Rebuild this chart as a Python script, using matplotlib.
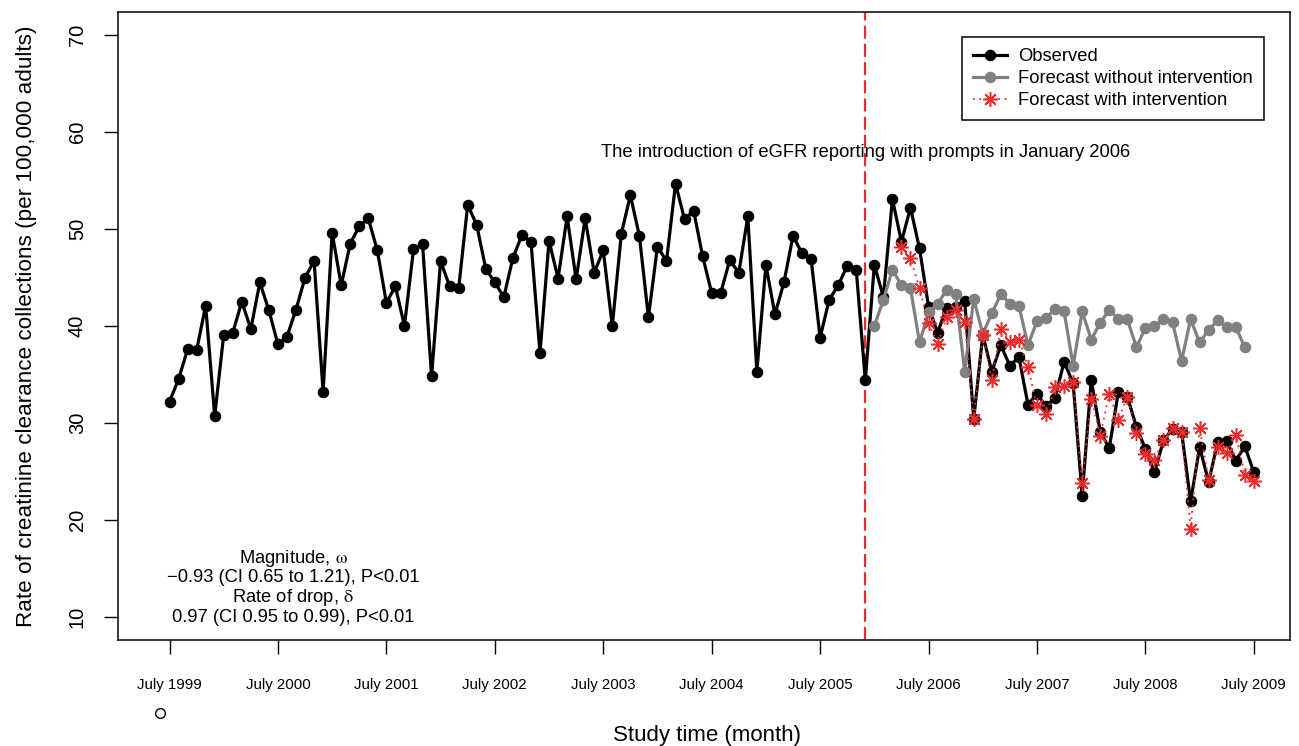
import numpy as np
import matplotlib
matplotlib.use("Agg")
import matplotlib.pyplot as plt
from matplotlib.lines import Line2D

plt.rcParams['font.family'] = ['Liberation Sans', 'DejaVu Sans']
plt.rcParams['mathtext.fontset'] = 'stix'

# ---------------- data ----------------
tick_labels = ["July 1999", "July 2000", "July 2001", "July 2002", "July 2003",
               "July 2004", "July 2005", "July 2006", "July 2007", "July 2008",
               "July 2009"]

observed = [32.2, 34.5, 37.6, 37.5, 42.1, 30.7, 39.1, 39.3, 42.5, 39.7,
            44.5, 41.6, 38.1, 38.9, 41.7, 45.0, 46.7, 33.2, 49.6, 44.2,
            48.5, 50.3, 51.1, 47.8, 42.4, 44.1, 40.0, 47.9, 48.5, 34.8,
            46.7, 44.1, 43.9, 52.5, 50.4, 45.9, 44.5, 43.0, 47.0, 49.4,
            48.7, 37.2, 48.8, 44.9, 51.3, 44.8, 51.1, 45.5, 47.8, 40.0,
            49.5, 53.5, 49.3, 40.9, 48.2, 46.7, 54.7, 51.0, 51.9, 47.2,
            43.4, 43.4, 46.8, 45.5, 51.3, 35.3, 46.3, 41.2, 44.5, 49.3,
            47.5, 46.9, 38.8, 42.7, 44.2, 46.2, 45.8, 34.4, 46.3, 43.0,
            53.1, 48.7, 52.2, 48.0, 42.0, 39.3, 41.9, 42.0, 42.6, 30.4,
            39.1, 35.3, 38.0, 35.9, 36.8, 31.9, 33.0, 31.7, 32.6, 36.3,
            34.1, 22.5, 34.4, 29.1, 27.4, 33.2, 32.7, 29.6, 27.3, 24.9,
            28.2, 29.4, 29.1, 21.9, 27.5, 23.9, 28.0, 28.1, 26.1, 27.6,
            24.9]

forecast_without_start = 78   # month index of first point
forecast_without = [40.0, 42.7, 45.8, 44.2, 43.9, 38.3, 41.4, 42.3, 43.7, 43.3,
                    35.3, 42.8, 39.2, 41.3, 43.3, 42.3, 42.1, 38.0, 40.5, 40.8,
                    41.8, 41.5, 35.9, 41.5, 38.6, 40.3, 41.7, 40.7, 40.7, 37.8,
                    39.8, 40.0, 40.7, 40.4, 36.4, 40.7, 38.3, 39.6, 40.6, 39.9,
                    39.9, 37.8]

forecast_with_start = 81
forecast_with = [48.2, 47.0, 43.9, 40.3, 38.1, 40.9, 41.6, 40.4, 30.4, 39.1,
                 34.4, 39.7, 38.4, 38.6, 35.8, 31.8, 30.9, 33.7, 33.8, 34.2,
                 23.8, 32.5, 28.7, 33.0, 30.3, 32.7, 29.0, 26.8, 26.2, 28.2,
                 29.5, 29.1, 19.1, 29.5, 24.1, 27.5, 26.9, 28.8, 24.6, 24.0]

intervention_month = 77

# ---------------- figure ----------------
W, H = 1299, 746
fig = plt.figure(figsize=(W / 100, H / 100), dpi=100)
ax = fig.add_axes([118 / W, 1 - 640 / H, (1290 - 118) / W, (640 - 12) / H])

red = '#EE2A2A'
x_obs = np.arange(len(observed))
x_wo = np.arange(len(forecast_without)) + forecast_without_start
x_w = np.arange(len(forecast_with)) + forecast_with_start

ax.axvline(intervention_month, color=red, lw=1.6, dashes=(5.9, 2.3), zorder=1)

ax.plot(x_obs, observed, color='black', lw=2.3, marker='o', ms=7.3,
        label='Observed', zorder=3)
ax.plot(x_wo, forecast_without, color='#808080', lw=2.3, marker='o', ms=7.3,
        label='Forecast without intervention', zorder=4)
ax.plot(x_w, forecast_with, color=red, lw=1.3, ls=(0, (1, 2.5)),
        marker=(8, 2, 0), ms=10.5, mew=1.1, label='Forecast with intervention',
        zorder=5)

ax.set_xlim(-5.7, 124.0)
ax.set_ylim(7.6, 72.4)
ax.set_xticks(np.arange(0, 121, 12))
ax.set_xticklabels(tick_labels)
ax.set_yticks(np.arange(10, 71, 10))

ax.tick_params(axis='x', length=10, width=1.0, pad=17, labelsize=10.8)
ax.tick_params(axis='y', length=10, width=1.0, pad=12.5, labelsize=14.5,
               labelrotation=90)
for lbl in ax.get_yticklabels():
    lbl.set_va('center')
for sp in ax.spines.values():
    sp.set_linewidth(1.1)

fig.text(27 / W, 1 - 326 / H,
         'Rate of creatinine clearance collections (per 100,000 adults)',
         rotation=90, ha='center', va='center', fontsize=16.2)
fig.text(707 / W, 1 - 735 / H, 'Study time (month)', ha='center',
         va='center', fontsize=16.0)

ax.text(intervention_month, 57.9,
        'The introduction of eGFR reporting with prompts in January 2006',
        ha='center', va='center', fontsize=13.2)

ax.text(13.7, 13.1,
        'Magnitude, $\\mathrm{\\omega}$\n\u22120.93 (CI 0.65 to 1.21), P<0.01\n'
        'Rate of drop, $\\mathrm{\\delta}$\n0.97 (CI 0.95 to 0.99), P<0.01',
        ha='center', va='center', fontsize=13.2, linespacing=1.05)

leg = ax.legend(loc='upper left', bbox_to_anchor=(0.720, 0.960),
                borderaxespad=0, fancybox=False, edgecolor='black',
                fontsize=13.2, handlelength=1.85, handletextpad=0.6,
                labelspacing=0.27, borderpad=0.6, framealpha=1)
leg.get_frame().set_linewidth(1.1)

fig.add_artist(Line2D([160 / W], [1 - 713 / H], marker='o', ms=7,
                      mfc='none', mec='black', mew=1.0,
                      transform=fig.transFigure))

fig.savefig('out.png', dpi=100)
